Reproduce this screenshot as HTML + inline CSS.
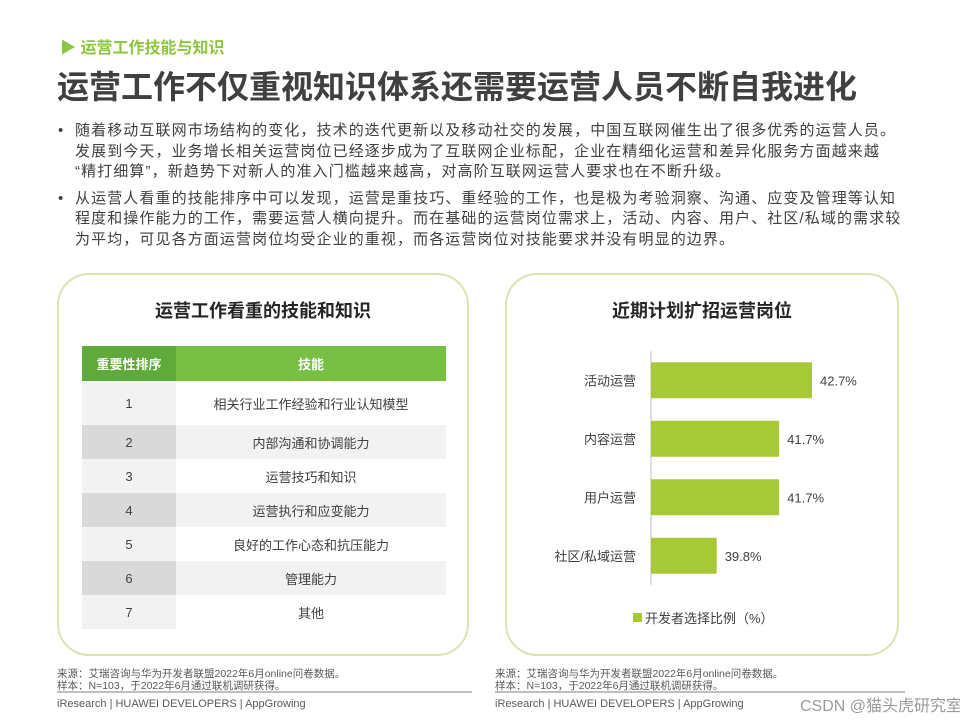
<!DOCTYPE html>
<html><head><meta charset="utf-8">
<style>
body{margin:0;width:960px;height:720px;background:#fff;position:relative;overflow:hidden;font-family:"Liberation Sans","Noto Sans CJK SC",sans-serif;color:#404040}
.abs{position:absolute}
.panel{position:absolute;border:2px solid #d8e5b0;border-radius:32px;box-sizing:border-box}
.bul{font-size:15px;line-height:20.5px;color:#404040;letter-spacing:1.1px;white-space:nowrap}
.src{font-size:10.5px;line-height:12px;color:#595959}
.foot{font-size:11px;color:#595959}
td{padding:0;text-align:center;font-size:13px;color:#404040}
</style></head><body>
<div class="abs" style="left:60px;top:34px;font-size:16px;font-weight:bold;color:#8cc63f">▶ 运营工作技能与知识</div>
<div class="abs" style="left:57px;top:62px;font-size:32px;font-weight:bold;color:#404040;white-space:nowrap">运营工作不仅重视知识体系还需要运营人员不断自我进化</div>
<div class="abs bul" style="left:58px;top:121px">
<div style="position:relative;padding-left:17px;margin-bottom:6px"><span style="position:absolute;left:0">•</span>随着移动互联网市场结构的变化，技术的迭代更新以及移动社交的发展，中国互联网催生出了很多优秀的运营人员。<br>发展到今天，业务增长相关运营岗位已经逐步成为了互联网企业标配，企业在精细化运营和差异化服务方面越来越<br>“精打细算”，新趋势下对新人的准入门槛越来越高，对高阶互联网运营人要求也在不断升级。</div>
<div style="position:relative;padding-left:17px"><span style="position:absolute;left:0">•</span>从运营人看重的技能排序中可以发现，运营是重技巧、重经验的工作，也是极为考验洞察、沟通、应变及管理等认知<br>程度和操作能力的工作，需要运营人横向提升。而在基础的运营岗位需求上，活动、内容、用户、社区/私域的需求较<br>为平均，可见各方面运营岗位均受企业的重视，而各运营岗位对技能要求并没有明显的边界。</div>
</div>

<div class="panel" style="left:57px;top:273px;width:412px;height:383px"></div>
<div class="abs" style="left:57px;top:297px;width:412px;text-align:center;font-size:18px;font-weight:bold;color:#262626">运营工作看重的技能和知识</div>
<table class="abs" style="left:82px;top:346px;width:364px;border-collapse:collapse">
<tr style="height:35px"><td style="width:94px;color:#fff;font-weight:bold;background:#5faa3a">重要性排序</td><td style="color:#fff;font-weight:bold;background:#77c043">技能</td></tr>
<tr style="height:44px"><td style="background:#f2f2f2">1</td><td style="background:#fff">相关行业工作经验和行业认知模型</td></tr>
<tr style="height:34px"><td style="background:#d9d9d9">2</td><td style="background:#f2f2f2">内部沟通和协调能力</td></tr>
<tr style="height:34px"><td style="background:#f2f2f2">3</td><td style="background:#fff">运营技巧和知识</td></tr>
<tr style="height:34px"><td style="background:#d9d9d9">4</td><td style="background:#f2f2f2">运营执行和应变能力</td></tr>
<tr style="height:34px"><td style="background:#f2f2f2">5</td><td style="background:#fff">良好的工作心态和抗压能力</td></tr>
<tr style="height:34px"><td style="background:#d9d9d9">6</td><td style="background:#f2f2f2">管理能力</td></tr>
<tr style="height:34px"><td style="background:#f2f2f2">7</td><td style="background:#fff">其他</td></tr>
</table>

<div class="panel" style="left:505px;top:273px;width:394px;height:383px"></div>
<div class="abs" style="left:505px;top:297px;width:394px;text-align:center;font-size:18px;font-weight:bold;color:#262626">近期计划扩招运营岗位</div>
<svg class="abs" id="chart" style="left:0;top:0" width="960" height="720"></svg>

<div class="abs src" style="left:57px;top:668px">来源：艾瑞咨询与华为开发者联盟2022年6月online问卷数据。<br>样本：N=103，于2022年6月通过联机调研获得。</div>
<div class="abs" style="left:57px;top:691px;width:415px;height:2px;background:#bfbfbf"></div>
<div class="abs foot" style="left:57px;top:698px">iResearch | HUAWEI DEVELOPERS | AppGrowing</div>
<div class="abs src" style="left:495px;top:668px">来源：艾瑞咨询与华为开发者联盟2022年6月online问卷数据。<br>样本：N=103，于2022年6月通过联机调研获得。</div>
<div class="abs" style="left:495px;top:691px;width:410px;height:2px;background:#bfbfbf"></div>
<div class="abs foot" style="left:495px;top:698px">iResearch | HUAWEI DEVELOPERS | AppGrowing</div>
<div class="abs" style="left:800px;top:692px;font-size:16px;color:#9a9a9a;white-space:nowrap">CSDN @猫头虎研究室</div>

<script>
const categories = ["活动运营","内容运营","用户运营","社区/私域运营"];
const values = [42.7, 41.7, 41.7, 39.8];
const valueLabels = ["42.7%","41.7%","41.7%","39.8%"];
const legendLabel = "开发者选择比例（%）";
const svg = document.getElementById('chart');
const NS = "http://www.w3.org/2000/svg";
const x0 = 651, xMin = 37.8, pxPer = 161/(42.7-37.8);
function xScale(v){ return x0 + (v - xMin) * pxPer; }
const yTop = 351, band = 58.5, barH = 36;
function yScale(i){ return yTop + i*band + (band-barH)/2; }
const axis = document.createElementNS(NS,'line');
axis.setAttribute('x1',x0);axis.setAttribute('x2',x0);axis.setAttribute('y1',351);axis.setAttribute('y2',585);
axis.setAttribute('stroke','#bfbfbf');axis.setAttribute('stroke-width','1');


svg.appendChild(axis);
values.forEach((v,i)=>{
  const y = yScale(i);
  const r = document.createElementNS(NS,'rect');
  r.setAttribute('x',x0);r.setAttribute('y',y);r.setAttribute('width',xScale(v)-x0);r.setAttribute('height',barH);r.setAttribute('fill','#a6c936');
  
  
  svg.appendChild(r);
  const c = document.createElementNS(NS,'text');
  c.setAttribute('x',x0-15);c.setAttribute('y',y+barH/2+5);c.setAttribute('text-anchor','end');c.setAttribute('font-size','13');c.setAttribute('fill','#404040');
  c.textContent = categories[i];
  
  
  svg.appendChild(c);
  const t = document.createElementNS(NS,'text');
  t.setAttribute('x',xScale(v)+8);t.setAttribute('y',y+barH/2+5);t.setAttribute('font-size','13');t.setAttribute('fill','#404040');
  t.textContent = valueLabels[i];
  
  
  svg.appendChild(t);
});
const lr = document.createElementNS(NS,'rect');
lr.setAttribute('x',633);lr.setAttribute('y',613);lr.setAttribute('width',9);lr.setAttribute('height',9);lr.setAttribute('fill','#a6c936');


svg.appendChild(lr);
const lt = document.createElementNS(NS,'text');
lt.setAttribute('x',645);lt.setAttribute('y',623);lt.setAttribute('font-size','13');lt.setAttribute('fill','#404040');
lt.textContent = legendLabel;


svg.appendChild(lt);
</script>
</body></html>
